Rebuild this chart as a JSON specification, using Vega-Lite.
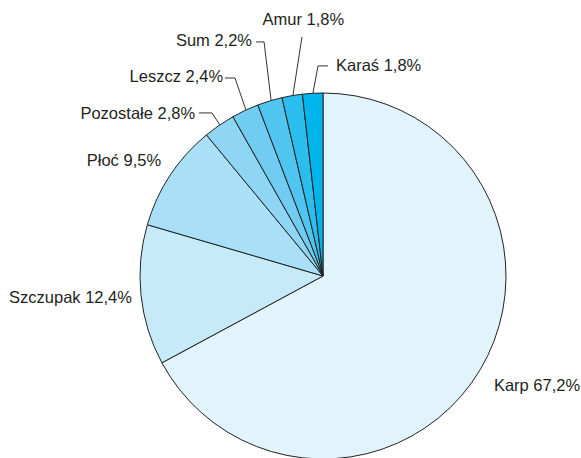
{
  "$schema": "https://vega.github.io/schema/vega-lite/v6.json",
  "width": 516,
  "height": 364,
  "autosize": {"type": "none"},
  "padding": {"left": 65, "top": 94, "right": 0, "bottom": 0},
  "background": "white",
  "config": {"view": {"stroke": null}, "text": {"font": "Liberation Sans", "fontSize": 16.5, "color": "#231f20"}},
  "datasets": {
    "slices": [
      {"name": "Karp", "pct": 67.2, "idx": 1},
      {"name": "Szczupak", "pct": 12.4, "idx": 2},
      {"name": "Płoć", "pct": 9.5, "idx": 3},
      {"name": "Pozostałe", "pct": 2.8, "idx": 4},
      {"name": "Leszcz", "pct": 2.4, "idx": 5},
      {"name": "Sum", "pct": 2.2, "idx": 6},
      {"name": "Amur", "pct": 1.8, "idx": 7},
      {"name": "Karaś", "pct": 1.8, "idx": 8}
    ],
    "labels": [
      {"label": "Karp 67,2%", "lx": 93.4, "ly": -60.1, "anchor": "left"},
      {"label": "Szczupak 12,4%", "lx": -104.4, "ly": -12.0, "anchor": "right"},
      {"label": "Płoć 9,5%", "lx": -88.5, "ly": 62.8, "anchor": "right"},
      {"label": "Pozostałe 2,8%", "lx": -69.9, "ly": 88.5, "anchor": "right"},
      {"label": "Leszcz 2,4%", "lx": -54.6, "ly": 108.7, "anchor": "right"},
      {"label": "Sum 2,2%", "lx": -38.8, "ly": 128.4, "anchor": "right"},
      {"label": "Amur 1,8%", "lx": -10.7, "ly": 139.9, "anchor": "center"},
      {"label": "Karaś 1,8%", "lx": 7.1, "ly": 114.8, "anchor": "left"}
    ],
    "leaders": [
      {"name": "Pozostałe", "seq": 1, "lx": -67.8, "ly": 89.1},
      {"name": "Pozostałe", "seq": 2, "lx": -60.7, "ly": 89.1},
      {"name": "Pozostałe", "seq": 3, "lx": -56.3, "ly": 82.5},
      {"name": "Leszcz", "seq": 1, "lx": -53.6, "ly": 108.2},
      {"name": "Leszcz", "seq": 2, "lx": -48.1, "ly": 108.2},
      {"name": "Leszcz", "seq": 3, "lx": -42.1, "ly": 90.7},
      {"name": "Sum", "seq": 1, "lx": -36.6, "ly": 127.9},
      {"name": "Sum", "seq": 2, "lx": -32.2, "ly": 127.9},
      {"name": "Sum", "seq": 3, "lx": -28.4, "ly": 96.2},
      {"name": "Amur", "seq": 1, "lx": -11.5, "ly": 130.6},
      {"name": "Amur", "seq": 2, "lx": -16.4, "ly": 98.9},
      {"name": "Karaś", "seq": 1, "lx": 2.7, "ly": 114.8},
      {"name": "Karaś", "seq": 2, "lx": -2.7, "ly": 114.8},
      {"name": "Karaś", "seq": 3, "lx": -5.5, "ly": 100.0}
    ]
  },
  "layer": [
    {
      "data": {"name": "slices"},
      "mark": {"type": "arc", "outerRadius": 183, "stroke": "#222222", "strokeWidth": 1},
      "encoding": {
        "theta": {"field": "pct", "type": "quantitative", "stack": true},
        "order": {"field": "idx", "type": "quantitative"},
        "color": {
          "field": "name", "type": "nominal", "legend": null,
          "scale": {
            "domain": ["Karp", "Szczupak", "Płoć", "Pozostałe", "Leszcz", "Sum", "Amur", "Karaś"],
            "range": ["#e1f4fc", "#c7eaf9", "#a9dff7", "#8ed6f3", "#70cdf1", "#4fc5ef", "#2bbdee", "#00b4ec"]
          }
        }
      }
    },
    {
      "data": {"name": "leaders"},
      "mark": {"type": "line", "stroke": "#333333", "strokeWidth": 1},
      "encoding": {
        "x": {"field": "lx", "type": "quantitative", "axis": null, "scale": {"domain": [-141, 141], "nice": false, "zero": false}},
        "y": {"field": "ly", "type": "quantitative", "axis": null, "scale": {"domain": [-99.45, 99.45], "nice": false, "zero": false}},
        "detail": {"field": "name"},
        "order": {"field": "seq", "type": "quantitative"}
      }
    },
    {
      "data": {"name": "labels"},
      "transform": [{"filter": "datum.anchor === 'right'"}],
      "mark": {"type": "text", "align": "right", "baseline": "middle"},
      "encoding": {
        "x": {"field": "lx", "type": "quantitative"},
        "y": {"field": "ly", "type": "quantitative"},
        "text": {"field": "label"}
      }
    },
    {
      "data": {"name": "labels"},
      "transform": [{"filter": "datum.anchor === 'left'"}],
      "mark": {"type": "text", "align": "left", "baseline": "middle"},
      "encoding": {
        "x": {"field": "lx", "type": "quantitative"},
        "y": {"field": "ly", "type": "quantitative"},
        "text": {"field": "label"}
      }
    },
    {
      "data": {"name": "labels"},
      "transform": [{"filter": "datum.anchor === 'center'"}],
      "mark": {"type": "text", "align": "center", "baseline": "middle"},
      "encoding": {
        "x": {"field": "lx", "type": "quantitative"},
        "y": {"field": "ly", "type": "quantitative"},
        "text": {"field": "label"}
      }
    }
  ]
}
